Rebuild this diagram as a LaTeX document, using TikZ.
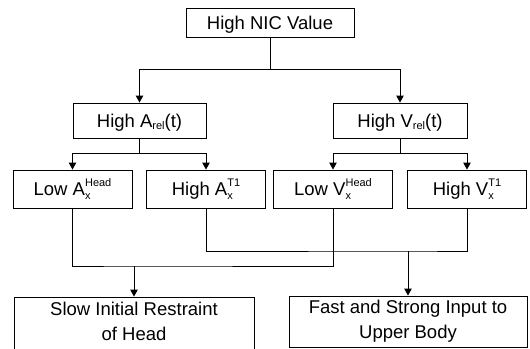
\documentclass[tikz,border=0pt]{standalone}
\usepackage{fontspec}
\setmainfont{Liberation Sans}
\usepackage{tikz}
\usetikzlibrary{arrows.meta}

% small indices, set by hand so they stack like the original
\newcommand{\idx}[1]{\raisebox{-2.5pt}{\fontsize{11}{11}\selectfont #1}}
\newcommand{\idxtwo}[2]{\rlap{\raisebox{-3.5pt}{\fontsize{11}{11}\selectfont #1}}\raisebox{9pt}{\fontsize{11}{11}\selectfont #2}}

\begin{document}
\begin{tikzpicture}[x=1pt,y=-1pt,
		font=\fontsize{18.5}{25}\selectfont,
		box/.style={draw, line width=0.9pt, inner sep=0pt, text height=13.5pt, text depth=0pt},
		outbox/.style={draw, line width=0.9pt, inner sep=0pt, align=center,
			execute at begin node={\rule{0pt}{21pt}}, execute at end node={\rule[-4pt]{0pt}{4pt}}},
		arr/.style={line width=0.9pt, -{Triangle[length=7pt,width=7.5pt]}},
		link/.style={line width=0.9pt}]
	\useasboundingbox (0,0) rectangle (530,348);
	
	% top box
	\node[box, minimum width=168, minimum height=29] (nic) at (270,22.5) {High NIC Value};
	
	% second row
	\node[box, minimum width=133, minimum height=35] (arel) at (139.5,120.5) {High A\idx{rel}(t)};
	\node[box, minimum width=134, minimum height=35] (vrel) at (400,120.5) {High V\idx{rel}(t)};
	
	% third row
	\foreach \name/\xpos/\txt in
	{lowa/72.5/{Low A\idxtwo{x}{Head}}, higha/206/{High A\idxtwo{x}{T1}},
		lowv/333/{Low V\idxtwo{x}{Head}}, highv/467/{High V\idxtwo{x}{T1}}}{
		\node[box, minimum width=119, minimum height=38] (\name) at (\xpos,189) {\txt};
	}
	
	% outcomes, the left one runs past the lower edge
	\node[outbox, minimum width=240, minimum height=52] (slow) at (134,323) {Slow Initial Restraint\\of Head};
	\node[outbox, minimum width=238, minimum height=51] (fast) at (408,321.5) {Fast and Strong Input to\\Upper Body};
	
	% junctions
	\coordinate (jtop) at (270,69);
	\coordinate (ja) at (139.5,153);
	\coordinate (jv) at (400,153);
	\coordinate (jslow) at (134,266);
	\coordinate (jfast) at (408,251);
	
	% edges
	\draw[link] (nic) -- (jtop);
	\foreach \y in {arel, vrel}{
		\draw[arr] (jtop) -| (\y);
	}
	\draw[link] (arel) -- (ja);
	\draw[link] (vrel) -- (jv);
	\foreach \x/\y in {ja/lowa, ja/higha, jv/lowv, jv/highv}{
		\draw[arr] (\x) -| (\y);
	}
	\draw[link] (lowa) |- (jslow) -| (lowv);
	\draw[link] (higha) |- (jfast) -| (highv);
	\draw[arr] (jslow) -- (slow);
	\draw[arr] (jfast) -- (fast);
\end{tikzpicture}
\end{document}
